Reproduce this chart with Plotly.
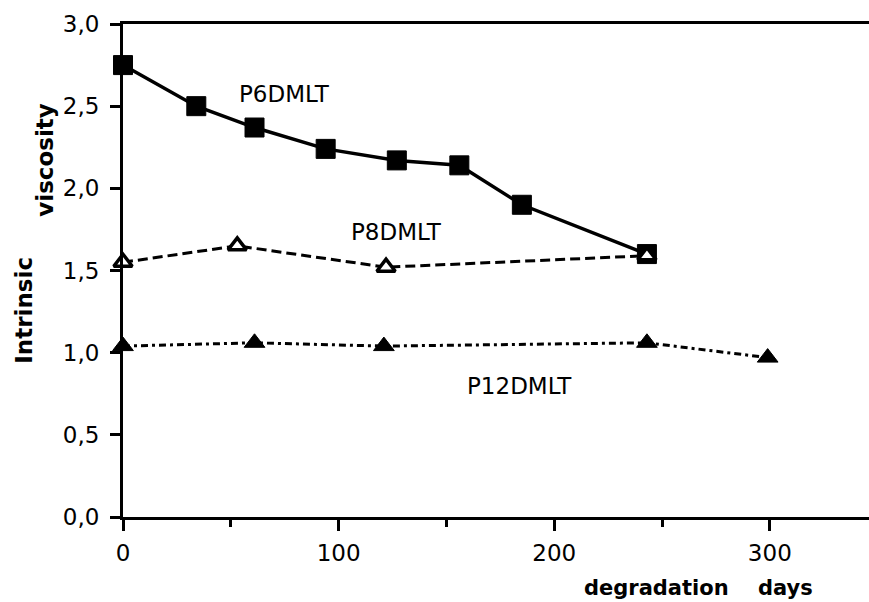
import plotly.graph_objects as go

# Intrinsic viscosity vs. degradation time for three polymers
p6_days = [0, 34, 61, 94, 127, 156, 185, 243]
p6_visc = [2.75, 2.50, 2.37, 2.24, 2.17, 2.14, 1.90, 1.60]

p8_days = [0, 53, 122, 243]
p8_visc = [1.55, 1.65, 1.52, 1.59]

p12_days = [0, 61, 121, 243, 299]
p12_visc = [1.04, 1.06, 1.04, 1.06, 0.97]

x_ticks = [0, 100, 200, 300]
x_tick_labels = ["0", "100", "200", "300"]
y_ticks = [0.0, 0.5, 1.0, 1.5, 2.0, 2.5, 3.0]

FAMILY = "DejaVu Sans"

fig = go.Figure()

fig.add_trace(go.Scatter(
    x=p12_days, y=p12_visc, mode="lines+markers", name="P12DMLT",
    line=dict(color="black", width=3, dash="7px,4px,3px,4px"),
    marker=dict(symbol="triangle-up", size=18, color="black",
                line=dict(color="black", width=1)),
    cliponaxis=False,
))

fig.add_trace(go.Scatter(
    x=p6_days, y=p6_visc, mode="lines+markers", name="P6DMLT",
    line=dict(color="black", width=3.5),
    marker=dict(symbol="square", size=19, color="black",
                line=dict(color="black", width=1)),
    cliponaxis=False,
))

fig.add_trace(go.Scatter(
    x=p8_days, y=p8_visc, mode="lines+markers", name="P8DMLT",
    line=dict(color="black", width=3, dash="10px,5px"),
    marker=dict(symbol="triangle-up", size=16, color="white",
                line=dict(color="black", width=3.5)),
    cliponaxis=False,
))

label_font = dict(family=FAMILY, size=23, color="black")
fig.add_annotation(x=75, y=2.575, text="P6DMLT", showarrow=False,
                   font=label_font, xanchor="center", yanchor="middle")
fig.add_annotation(x=127, y=1.735, text="P8DMLT", showarrow=False,
                   font=label_font, xanchor="center", yanchor="middle")
fig.add_annotation(x=184, y=0.80, text="P12DMLT", showarrow=False,
                   font=label_font, xanchor="center", yanchor="middle")

title_font = dict(family=FAMILY, size=21, color="black", weight="bold")
fig.add_annotation(xref="paper", yref="paper", x=0.772, y=-0.144,
                   text="degradation\u00a0\u00a0\u00a0 days", showarrow=False,
                   font=title_font, xanchor="center", yanchor="middle")
fig.add_annotation(xref="paper", yref="paper", x=-0.133, y=0.42,
                   text="Intrinsic", showarrow=False, textangle=-90,
                   font=dict(family=FAMILY, size=23, color="black", weight="bold"),
                   xanchor="center", yanchor="middle")
fig.add_annotation(xref="paper", yref="paper", x=-0.105, y=0.724,
                   text="viscosity", showarrow=False, textangle=-90,
                   font=dict(family=FAMILY, size=23, color="black", weight="bold"),
                   xanchor="center", yanchor="middle")

fig.update_xaxes(
    range=[0, 346], showgrid=False, zeroline=False,
    showline=True, linecolor="black", linewidth=3, mirror=True,
    tickmode="array", tickvals=x_ticks, ticktext=x_tick_labels,
    ticks="outside", ticklen=11, tickwidth=3, tickcolor="black",
    ticklabelstandoff=2,
    minor=dict(tickmode="array", tickvals=[50, 150, 250], ticks="outside",
               ticklen=7, tickwidth=3, tickcolor="black", showgrid=False),
    tickfont=dict(family=FAMILY, size=23, color="black"),
)
fig.update_yaxes(
    range=[0, 3.0], showgrid=False, zeroline=False,
    showline=True, linecolor="black", linewidth=3,
    tickmode="array", tickvals=y_ticks, tickformat=".1f",
    ticks="outside", ticklen=10, tickwidth=3, tickcolor="black",
    ticklabelstandoff=6,
    tickfont=dict(family=FAMILY, size=23, color="black"),
)

fig.update_layout(
    width=869, height=602,
    margin=dict(l=123, r=0, t=24, b=85),
    paper_bgcolor="white", plot_bgcolor="white",
    separators=",.",
    showlegend=False,
)

fig.write_html("out.html")
